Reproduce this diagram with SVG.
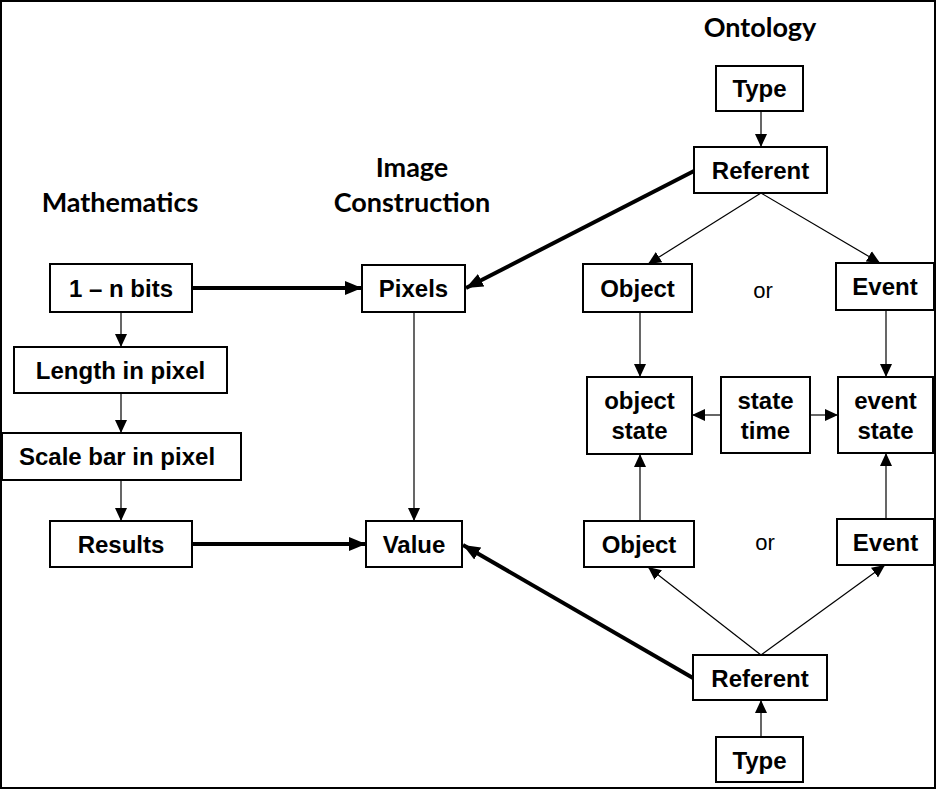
<svg xmlns="http://www.w3.org/2000/svg" width="937" height="790" viewBox="0 0 937 790">
<style>
.box{fill:#fff;stroke:#000;stroke-width:2}
.t{font-family:"Liberation Sans",Arial,sans-serif;font-weight:bold;font-size:24px;text-anchor:middle;fill:#000}
.h{font-family:Lato,"Liberation Sans",sans-serif;font-weight:bold;font-size:27px;text-anchor:middle;fill:#000}
.or{font-family:"Liberation Sans",Arial,sans-serif;font-size:22px;text-anchor:middle;fill:#000}
.thin{stroke:#000;stroke-width:1.2;fill:none;marker-end:url(#ah)}
.thick{stroke:#000;stroke-width:4;fill:none;marker-end:url(#ahb)}
</style>
<defs>
<marker id="ah" markerUnits="userSpaceOnUse" markerWidth="14" markerHeight="14" viewBox="0 0 14 14" refX="13" refY="7" orient="auto"><path d="M0,1 L13,7 L0,13 Z" fill="#000"/></marker>
<marker id="ahb" markerUnits="userSpaceOnUse" markerWidth="18" markerHeight="16" viewBox="0 0 18 16" refX="17" refY="8" orient="auto"><path d="M0,1 L17,8 L0,15 Z" fill="#000"/></marker>
</defs>
<rect x="1" y="1" width="934" height="787" fill="#fff" stroke="#000" stroke-width="2"/>
<g id="headers">
<text class="h" x="120" y="212">Mathematics</text>
<text class="h" x="412" y="177">Image</text>
<text class="h" x="412" y="212">Construction</text>
<text class="h" x="760" y="37">Ontology</text>
<text class="or" x="763" y="298">or</text>
<text class="or" x="765" y="550">or</text>
</g>
<g id="connectors">
<line class="thin" x1="121" y1="312" x2="121" y2="347"/>
<line class="thin" x1="121" y1="393" x2="121" y2="433"/>
<line class="thin" x1="121" y1="480" x2="121" y2="521"/>
<line class="thick" x1="192" y1="288" x2="362" y2="288"/>
<line class="thick" x1="192" y1="544" x2="366" y2="544"/>
<line class="thin" x1="414" y1="312" x2="414" y2="521"/>
<line class="thick" x1="694" y1="171" x2="466" y2="288"/>
<line class="thick" x1="693" y1="678" x2="463" y2="545"/>
<line class="thin" x1="761" y1="111" x2="761" y2="147"/>
<line class="thin" x1="761" y1="193" x2="648" y2="264"/>
<line class="thin" x1="761" y1="193" x2="880" y2="263"/>
<line class="thin" x1="640" y1="312" x2="640" y2="377"/>
<line class="thin" x1="886" y1="310" x2="886" y2="377"/>
<line class="thin" x1="721" y1="415" x2="692" y2="415"/>
<line class="thin" x1="810" y1="415" x2="838" y2="415"/>
<line class="thin" x1="640" y1="521" x2="640" y2="454"/>
<line class="thin" x1="886" y1="519" x2="886" y2="453"/>
<line class="thin" x1="761" y1="655" x2="648" y2="567"/>
<line class="thin" x1="761" y1="655" x2="885" y2="565"/>
<line class="thin" x1="761" y1="737" x2="761" y2="700"/>
</g>
<g id="n-bits"><rect class="box" x="50" y="264" width="142" height="48"/><text class="t" x="121" y="297">1 – n bits</text></g>
<g id="length"><rect class="box" x="14" y="347" width="213" height="46"/><text class="t" x="120.5" y="379">Length in pixel</text></g>
<g id="scalebar"><rect class="box" x="2" y="433" width="239" height="47"/><text class="t" x="117" y="465">Scale bar in pixel</text></g>
<g id="results"><rect class="box" x="50" y="521" width="142" height="46"/><text class="t" x="121" y="553">Results</text></g>
<g id="pixels"><rect class="box" x="362" y="265" width="103" height="47"/><text class="t" x="413.5" y="297">Pixels</text></g>
<g id="value"><rect class="box" x="366" y="521" width="96" height="46"/><text class="t" x="414" y="553">Value</text></g>
<g id="type-top"><rect class="box" x="716" y="66" width="87" height="45"/><text class="t" x="759.5" y="97">Type</text></g>
<g id="referent-top"><rect class="box" x="694" y="147" width="133" height="46"/><text class="t" x="760.5" y="179">Referent</text></g>
<g id="object-top"><rect class="box" x="583" y="264" width="109" height="48"/><text class="t" x="637.5" y="297">Object</text></g>
<g id="event-top"><rect class="box" x="836" y="263" width="98" height="47"/><text class="t" x="885" y="295">Event</text></g>
<g id="object-state"><rect class="box" x="587" y="377" width="105" height="77"/><text class="t" x="639.5" y="409">object</text><text class="t" x="639.5" y="439">state</text></g>
<g id="state-time"><rect class="box" x="721" y="377" width="89" height="76"/><text class="t" x="765.5" y="409">state</text><text class="t" x="765.5" y="439">time</text></g>
<g id="event-state"><rect class="box" x="838" y="377" width="95" height="76"/><text class="t" x="885.5" y="409">event</text><text class="t" x="885.5" y="439">state</text></g>
<g id="object-bottom"><rect class="box" x="584" y="521" width="110" height="46"/><text class="t" x="639" y="553">Object</text></g>
<g id="event-bottom"><rect class="box" x="837" y="519" width="97" height="46"/><text class="t" x="885.5" y="551">Event</text></g>
<g id="referent-bottom"><rect class="box" x="693" y="655" width="134" height="45"/><text class="t" x="760" y="687">Referent</text></g>
<g id="type-bottom"><rect class="box" x="716" y="737" width="87" height="45"/><text class="t" x="759.5" y="769">Type</text></g>
</svg>
